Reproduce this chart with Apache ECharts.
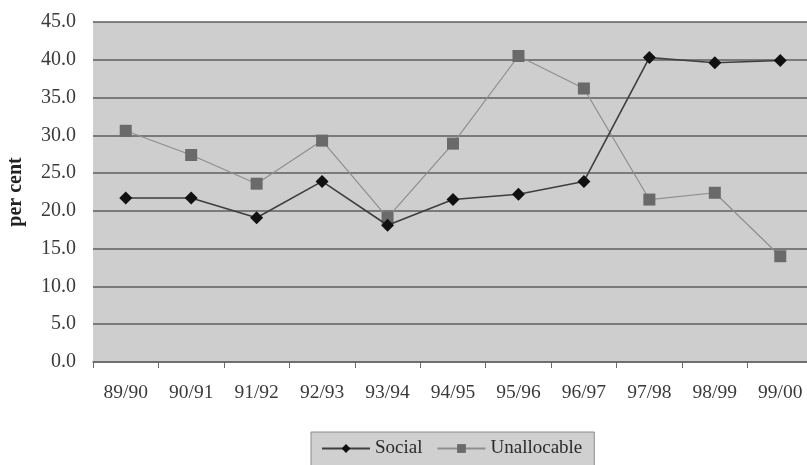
<!DOCTYPE html>
<html>
<head>
<meta charset="utf-8">
<script src="https://cdn.jsdelivr.net/npm/echarts@6/dist/echarts.min.js"></script>
<style>
  html, body { margin: 0; padding: 0; background: #ffffff; }
  #chart { width: 807px; height: 465px; }
</style>
</head>
<body>
<div id="chart"></div>
<script>
// Financial years on the category axis
const years = ['89/90', '90/91', '91/92', '92/93', '93/94', '94/95', '95/96', '96/97', '97/98', '98/99', '99/00'];

// Share of spending, per cent
const social = [21.7, 21.7, 19.1, 23.9, 18.1, 21.5, 22.2, 23.9, 40.3, 39.6, 39.9];
const unallocable = [30.6, 27.4, 23.6, 29.3, 19.1, 28.9, 40.5, 36.2, 21.5, 22.4, 14.0];

const serif = '"Liberation Serif", "DejaVu Serif", serif';

const chart = echarts.init(document.getElementById('chart'), null, { renderer: 'canvas' });

chart.setOption({
  animation: false,
  backgroundColor: '#ffffff',
  textStyle: { fontFamily: serif },
  // plot area runs slightly past the right edge of the canvas
  grid: {
    left: 93, width: 720, top: 22, height: 340,
    outerBoundsMode: 'none',
    containLabel: false,
    show: true,
    backgroundColor: '#cecece',
    borderWidth: 0
  },
  legend: {
    left: 311, top: 432,
    padding: [7, 12, 12, 10],
    itemWidth: 48, itemHeight: 11, itemGap: 14,
    backgroundColor: '#d0d0d0',
    borderColor: '#8a8a8a', borderWidth: 1,
    textStyle: { fontFamily: serif, fontSize: 19, color: '#2a2a2a' },
    data: ['Social', 'Unallocable']
  },
  xAxis: {
    type: 'category',
    data: years,
    boundaryGap: true,
    axisLine: { show: true, lineStyle: { color: '#6a6a6a', width: 1.5 } },
    axisTick: { show: true, length: 6, lineStyle: { color: '#6a6a6a' } },
    axisLabel: { fontFamily: serif, fontSize: 19.5, color: '#3a3a3a', margin: 21 },
    splitLine: { show: false }
  },
  yAxis: {
    type: 'value',
    min: 0, max: 45, interval: 5,
    name: 'per cent',
    nameLocation: 'middle',
    nameGap: 67,
    nameRotate: 90,
    nameTextStyle: { fontFamily: serif, fontSize: 20, fontWeight: 'bold', color: '#222' },
    axisLine: { show: false },
    axisTick: { show: false },
    axisLabel: {
      fontFamily: serif, fontSize: 20, color: '#3a3a3a', margin: 17,
      formatter: v => v.toFixed(1)
    },
    splitLine: { show: true, lineStyle: { color: '#5e5e5e', width: 1.5 } }
  },
  series: [
    {
      name: 'Social',
      type: 'line',
      data: social,
      symbol: 'diamond',
      symbolSize: 13,
      lineStyle: { color: '#3e3e3e', width: 1.6 },
      itemStyle: { color: '#111111' },
      z: 3
    },
    {
      name: 'Unallocable',
      type: 'line',
      data: unallocable,
      symbol: 'rect',
      symbolSize: 12,
      lineStyle: { color: '#8e8e8e', width: 1.2 },
      itemStyle: { color: '#6a6a6a' },
      z: 2
    }
  ]
});
</script>
</body>
</html>
